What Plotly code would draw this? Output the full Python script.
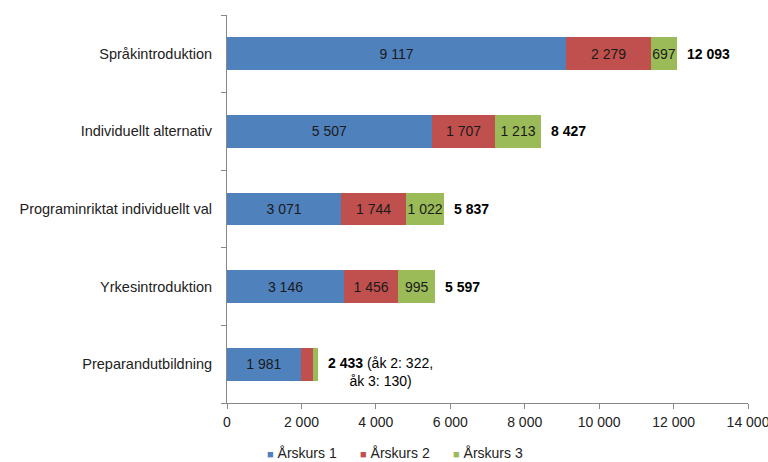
import plotly.graph_objects as go

categories = ["Språkintroduktion", "Individuellt alternativ", "Programinriktat individuellt val",
              "Yrkesintroduktion", "Preparandutbildning"]
arskurs1 = [9117, 5507, 3071, 3146, 1981]
arskurs2 = [2279, 1707, 1744, 1456, 322]
arskurs3 = [697, 1213, 1022, 995, 130]
totals = [12093, 8427, 5837, 5597, 2433]
total_labels = ["<b>12 093</b>", "<b>8 427</b>", "<b>5 837</b>", "<b>5 597</b>",
                "<b>2 433</b> (åk 2: 322,<br>åk 3: 130)"]
series_names = ["Årskurs 1", "Årskurs 2", "Årskurs 3"]
colors = ["#4F81BD", "#C0504D", "#9BBB59"]
tick_vals = [0, 2000, 4000, 6000, 8000, 10000, 12000, 14000]
tick_text = ["0", "2 000", "4 000", "6 000", "8 000", "10 000", "12 000", "14 000"]

def fmt(v):
    return f"{v:,}".replace(",", " ")

FONT = "Liberation Sans, Arial"

fig = go.Figure()
for i, (name, vals) in enumerate(zip(series_names, [arskurs1, arskurs2, arskurs3])):
    texts = [fmt(v) for v in vals]
    if i > 0:
        texts[-1] = ""
    fig.add_trace(go.Bar(
        y=categories, x=vals, name=name, orientation="h",
        marker=dict(color=colors[i], line=dict(width=0)),
        text=texts, textposition="inside", insidetextanchor="middle",
        textangle=0, constraintext="none",
        textfont=dict(family=FONT, size=14, color="#1a1a1a"),
        hoverinfo="x+y+name", showlegend=False,
    ))

for cat, tot, lab in zip(categories, totals, total_labels):
    fig.add_annotation(x=tot, y=cat, text=lab, showarrow=False, xanchor="left",
                       xshift=8, align="center",
                       yshift=-8 if "<br>" in lab else 0,
                       font=dict(family=FONT, size=14, color="#000000"))

# legend drawn as a single centred line of coloured squares + names
legend_parts = [f"<span style='color:{c}; font-size:11px'>■</span> {n}" for c, n in zip(colors, series_names)]
fig.add_annotation(xref="paper", yref="paper", x=0.322, y=-0.129,
                   xanchor="center", yanchor="middle", showarrow=False,
                   text="&#160;&#160;&#160;&#160;&#160;&#160;".join(legend_parts),
                   font=dict(family=FONT, size=14, color="#222222"))

fig.update_layout(
    barmode="stack", bargap=0.575,
    width=768, height=462,
    margin=dict(l=227, r=20, t=15, b=59, autoexpand=False),
    paper_bgcolor="white", plot_bgcolor="white",
    font=dict(family=FONT, size=14, color="#222222"),
    uniformtext=dict(minsize=14, mode="show"),
    showlegend=False,
)
fig.update_yaxes(categoryorder="array", categoryarray=categories[::-1],
                 showline=True, linecolor="#888888", linewidth=1,
                 ticks="outside", tickson="boundaries", ticklen=5, tickcolor="#888888",
                 showgrid=False, ticklabelstandoff=11, automargin=False,
                 tickfont=dict(family=FONT, size=14.5, color="#222222"))
fig.update_xaxes(range=[0, 14000], tickvals=tick_vals, ticktext=tick_text,
                 showline=True, linecolor="#888888", linewidth=1,
                 ticks="outside", ticklen=5, tickcolor="#888888",
                 showgrid=False, zeroline=False, automargin=False,
                 ticklabelstandoff=1, ticklabeloverflow="allow",
                 tickfont=dict(family=FONT, size=14, color="#222222"))

fig.write_html("out.html", post_script="document.body.style.margin='0';",
               config={"displayModeBar": False})
